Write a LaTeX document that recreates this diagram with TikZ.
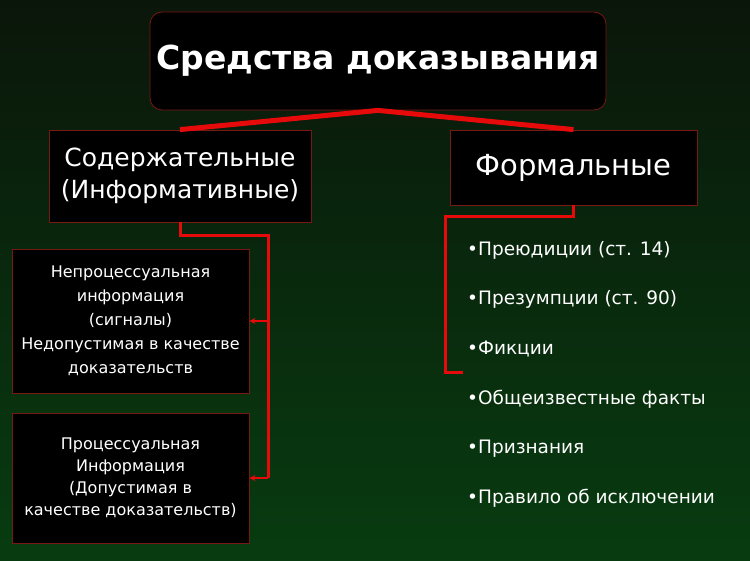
\documentclass[tikz,border=0pt]{standalone}
\usepackage{fontspec}
\setmainfont{DejaVu Sans}
\usetikzlibrary{arrows.meta,positioning}
\definecolor{bgtop}{RGB}{10,22,10}
\definecolor{bgbot}{RGB}{8,60,16}
\definecolor{linkred}{RGB}{230,10,10}
\definecolor{edgered}{RGB}{120,25,20}
\tikzset{
  box/.style={draw=edgered,line width=0.8pt,fill=black,text=white,align=center,inner sep=0pt},
  link/.style={linkred,line width=3pt},
  item/.style={anchor=west,text=white,font=\fontsize{18.5}{22}\selectfont,inner sep=0pt}
}
\begin{document}
\begin{tikzpicture}[x=1pt,y=-1pt]
        \useasboundingbox (0,0) rectangle (750,561);
        \shade[top color=bgtop,bottom color=bgbot] (0,0) rectangle (750,561);

        \node[box,rounded corners=12pt,minimum width=456pt,minimum height=98pt,font=\bfseries\fontsize{33}{38}\selectfont] (means) at (378,61) {Средства доказывания};
        \node[box,minimum width=262pt,minimum height=92pt,font=\fontsize{25}{32}\selectfont] (content) at (180,176) {Содержательные\\(Информативные)};
        \node[box,minimum width=247pt,minimum height=75pt,font=\fontsize{29}{32}\selectfont] (formal) at (573.5,167.5) {Формальные};
        \node[box,minimum width=237pt,minimum height=144pt,font=\fontsize{16}{24}\selectfont] (nonproc) at (130.5,321) {Непроцессуальная\\информация\\(сигналы)\\Недопустимая в качестве\\доказательств};
        \node[box,minimum width=237pt,minimum height=130pt,font=\fontsize{16}{22}\selectfont] (proc) at (130.5,478) {Процессуальная\\Информация\\(Допустимая в\\качестве доказательств)};

        % top fork
        \draw[link,line width=5pt] (content.north) -- (means.south) -- (formal.north);

        % left branch
        \coordinate (busL) at (268,236);
        \draw[link] (content.south) |- (busL) -- (busL |- proc.east);
        \draw[link,line width=2.5pt,-{Stealth[length=6pt,width=6pt]}] (busL |- nonproc.east) -- (nonproc.east);
        \draw[link,line width=2.5pt,-{Stealth[length=6pt,width=6pt]}] (busL |- proc.east) -- (proc.east);

        % right branch
        \coordinate (busR) at (445,217);
        \coordinate (fictEnd) at (463,373);
        \draw[link] (formal.south) |- (busR) |- (fictEnd);

        \foreach \txt [count=\i] in {Преюдиции (ст. 14),Презумпции (ст. 90),Фикции,Общеизвестные факты,Признания,Правило об исключении}
          \node[item] (item\i) at (467,{250+49.6*(\i-1)}) {•\txt};
\end{tikzpicture}
\end{document}
